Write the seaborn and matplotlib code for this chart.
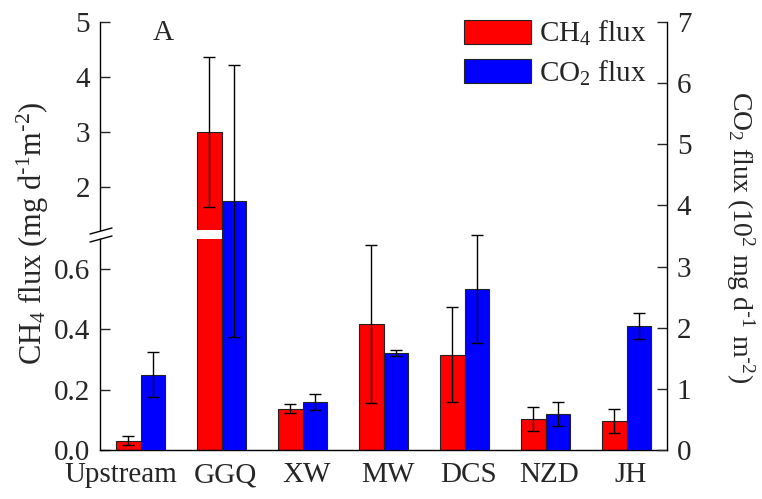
import numpy as np
import pandas as pd
import matplotlib
matplotlib.use("Agg")
import matplotlib.pyplot as plt
import matplotlib.transforms as mtransforms
from matplotlib.patches import Patch
from matplotlib.lines import Line2D
from matplotlib.ticker import FormatStrFormatter, FixedLocator
import seaborn as sns

# Sampling sites and greenhouse-gas fluxes (mean, error)
sites = ["Upstream", "GGQ", "XW", "MW", "DCS", "NZD", "JH"]
ch4_flux = [0.030, 3.00, 0.136, 0.417, 0.316, 0.102, 0.095]   # mg d-1 m-2
ch4_err = [0.015, 1.36, 0.015, 0.263, 0.156, 0.040, 0.040]
co2_flux = [1.23, 4.07, 0.79, 1.59, 2.63, 0.59, 2.03]         # 10^2 mg d-1 m-2
co2_err = [0.37, 2.22, 0.13, 0.05, 0.88, 0.19, 0.21]
series = ["CH$_4$ flux", "CO$_2$ flux"]
colors = ["#ff0000", "#0000ff"]
low_ticks = [0.0, 0.2, 0.4, 0.6]
up_ticks = [2, 3, 4, 5]
right_ticks = [0, 1, 2, 3, 4, 5, 6, 7]

sns.set_style("white")
plt.rcParams["font.family"] = ["Liberation Serif", "DejaVu Serif"]
plt.rcParams["mathtext.default"] = "regular"
plt.rcParams["axes.edgecolor"] = "black"
plt.rcParams["axes.linewidth"] = 1.0

ch4_df = pd.DataFrame({"site": sites, "series": series[0], "flux": ch4_flux})
co2_df = pd.DataFrame({"site": sites, "series": series[1], "flux": co2_flux})
palette = dict(zip(series, colors))

W, H = 762, 499
fig = plt.figure(figsize=(W / 100, H / 100), dpi=100)


def frac(x0, y0, x1, y1):
    """Pixel box (top-left origin) -> figure fraction rect."""
    return [x0 / W, 1 - y1 / H, (x1 - x0) / W, (y1 - y0) / H]


# broken left axis: lower and upper panels, right axis spans both
ax_low = fig.add_axes(frac(100, 239, 667, 450))
ax_up = fig.add_axes(frac(100, 22, 667, 230), sharex=ax_low)
ax_r = fig.add_axes(frac(100, 22, 667, 450), sharex=ax_low)
for a in (ax_up, ax_r):
    a.patch.set_visible(False)

bar_kw = dict(x="site", y="flux", hue="series", hue_order=series, order=sites,
              palette=palette, width=0.6, dodge=True, errorbar=None,
              legend=False, edgecolor="#222222", linewidth=0.8, saturation=1)

for a in (ax_low, ax_up):
    sns.barplot(data=ch4_df, ax=a, **bar_kw)
sns.barplot(data=co2_df, ax=ax_r, **bar_kw)


def add_errorbars(ax, vals, errs):
    xs = sorted(p.get_x() + p.get_width() / 2 for p in ax.patches)
    ax.errorbar(xs, vals, yerr=errs, fmt="none", ecolor="black",
                elinewidth=1, capsize=4, capthick=1, zorder=3)


add_errorbars(ax_low, ch4_flux, ch4_err)
add_errorbars(ax_up, ch4_flux, ch4_err)
add_errorbars(ax_r, co2_flux, co2_err)

ax_low.set_xlim(-0.5, 6.5)
ax_low.set_ylim(0, 211 / 302)
ax_up.set_ylim(5 - 208 / 55, 5)
ax_r.set_ylim(0, 7)

for a in (ax_low, ax_up, ax_r):
    a.set_xlabel("")
    a.set_ylabel("")
    for s in a.spines.values():
        s.set_visible(False)

ax_low.spines["left"].set_visible(True)
ax_low.spines["bottom"].set_visible(True)
ax_up.spines["left"].set_visible(True)
ax_r.spines["right"].set_visible(True)

tick_kw = dict(direction="in", length=7, width=1, labelsize=21, pad=7)
ax_low.yaxis.set_major_locator(FixedLocator(low_ticks))
ax_low.yaxis.set_major_formatter(FormatStrFormatter("%.1f"))
ax_low.tick_params(axis="y", left=True, **tick_kw)
ax_low.tick_params(axis="x", bottom=True, length=0, pad=9, labelsize=21)

ax_up.yaxis.set_major_locator(FixedLocator(up_ticks))
ax_up.yaxis.set_major_formatter(FormatStrFormatter("%d"))
ax_up.tick_params(axis="y", left=True, **tick_kw)
ax_up.tick_params(axis="x", bottom=False, labelbottom=False)

ax_r.yaxis.tick_right()
ax_r.yaxis.set_major_locator(FixedLocator(right_ticks))
ax_r.yaxis.set_major_formatter(FormatStrFormatter("%d"))
ax_r.tick_params(axis="y", right=True, left=False, labelright=True,
                 labelleft=False, **tick_kw)
ax_r.tick_params(axis="x", bottom=False, labelbottom=False)

# nudge site labels: "Upstream" moved left to clear "GGQ"
for i, lab in enumerate(ax_low.get_xticklabels()):
    dx = -20 if i == 0 else 4
    lab.set_transform(lab.get_transform() +
                      mtransforms.ScaledTranslation(dx / 100, 0, fig.dpi_scale_trans))

# axis-break marks
for yc in (231, 239):
    fig.add_artist(Line2D([90 / W, 112 / W], [1 - (yc + 3) / H, 1 - (yc - 3) / H],
                          transform=fig.transFigure, color="black", lw=1))

handles = [Patch(facecolor=c, edgecolor="#222222", lw=0.8, label=s)
           for s, c in zip(series, colors)]
fig.legend(handles=handles, loc="upper right", bbox_to_anchor=(646 / W, 1 - 19 / H),
           frameon=False, fontsize=21, handlelength=2.3, handleheight=0.9,
           handletextpad=0.25, labelspacing=0.35, borderpad=0, borderaxespad=0)

fig.text(153 / W, 1 - 40 / H, "A", fontsize=21, ha="left", va="baseline")
fig.text(33 / W, 1 - 233 / H, r"CH$_4$ flux (mg d$^{\text{-}1}$m$^{\text{-}2}$)",
         rotation=90, ha="center", va="center", fontsize=22)
fig.text(740 / W, 1 - 237 / H, r"CO$_2$ flux (10$^2$ mg d$^{\text{-}1}$ m$^{\text{-}2}$)",
         rotation=270, ha="center", va="center", fontsize=20)

fig.savefig("out.png", dpi=100)
